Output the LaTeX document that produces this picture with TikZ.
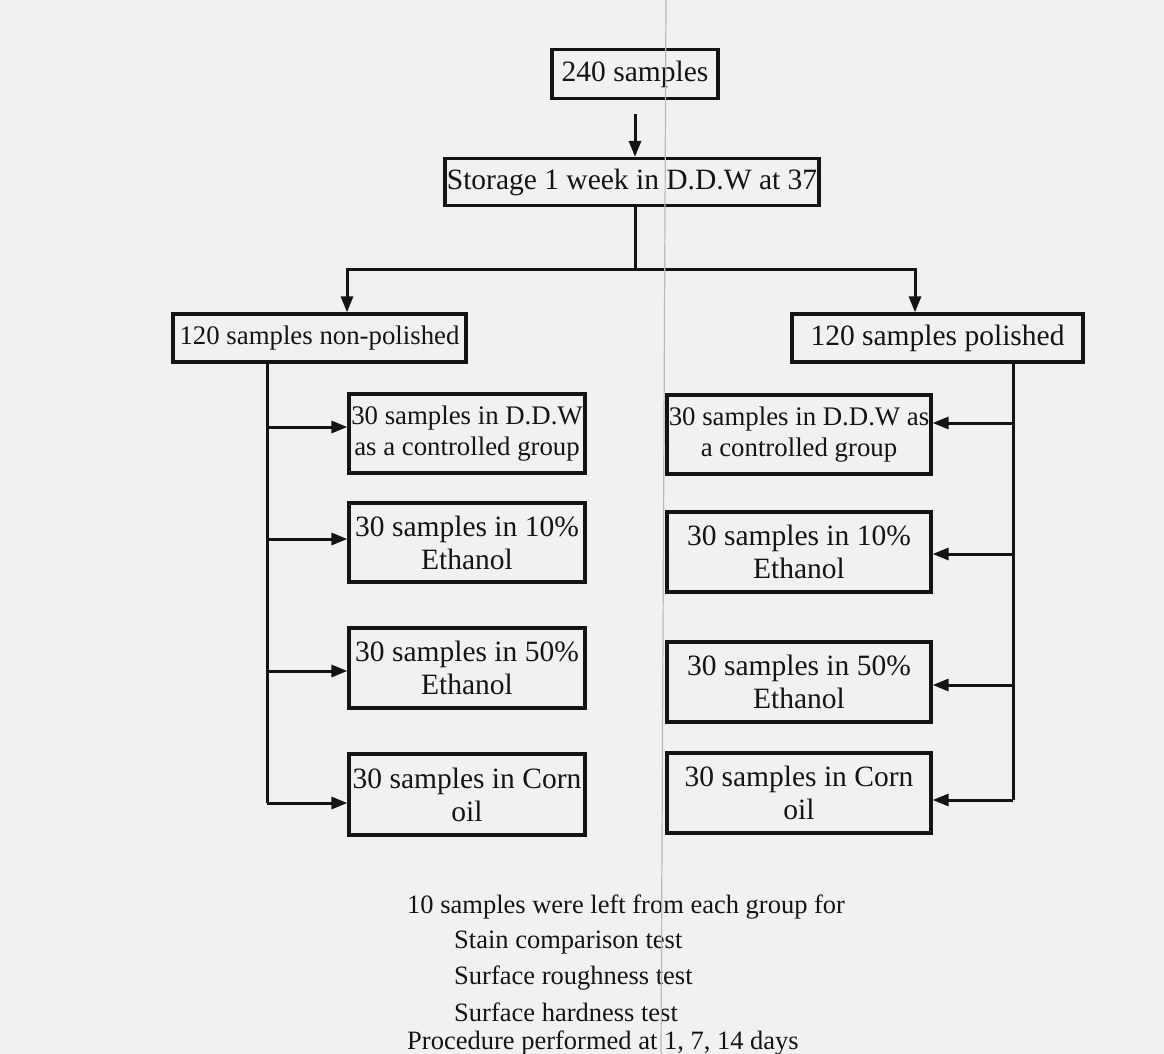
\documentclass[tikz,border=0pt]{standalone}
\usepackage{fontspec}
\setmainfont{Liberation Serif}
\usetikzlibrary{arrows.meta,calc}
\newcommand\fbig{\fontsize{29.5}{33}\selectfont}
\newcommand\fmid{\fontsize{26.8}{31}\selectfont}
\newcommand\fnote{\fontsize{26.5}{30}\selectfont}
\definecolor{ink}{gray}{0.08}
\definecolor{paper}{gray}{0.945}
\tikzset{
  box/.style={draw=ink, line width=3.2pt, inner sep=0pt, align=center, text=ink, font=\fbig},
  midbox/.style={box, font=\fmid},
  ln/.style={draw=ink, line width=3pt},
  arr/.style={ln, -{Triangle[length=16pt,width=12pt]}},
  note/.style={anchor=west, inner sep=0pt, text=ink, font=\fnote},
}
\begin{document}
\begin{tikzpicture}[x=1pt,y=-1pt]
\fill[paper] (0,0) rectangle (1164,1054);
\useasboundingbox (0,0) rectangle (1164,1054);

% top boxes
\node[box, minimum width=166pt, minimum height=49pt] (n240) at (635,74) {240 samples};
\node[box, minimum width=374pt, minimum height=47pt] (storage) at (632,182) {Storage 1 week in D.D.W at 37};

\node[midbox, minimum width=293pt, minimum height=48pt] (np) at (319.5,338) {120 samples non-polished};
\node[box, minimum width=291pt, minimum height=48pt] (pol) at (937.5,338) {120 samples polished};

% left column
\node[midbox, minimum width=236pt, minimum height=79pt] (L1) at (467,433.5) {30 samples in D.D.W\\as a controlled group};
\node[box, minimum width=236pt, minimum height=79pt] (L2) at (467,542.5) {30 samples in 10\%\\Ethanol};
\node[box, minimum width=236pt, minimum height=80pt] (L3) at (467,668) {30 samples in 50\%\\Ethanol};
\node[box, minimum width=236pt, minimum height=81pt] (L4) at (467,794.5) {30 samples in Corn\\oil};

% right column
\node[midbox, minimum width=264pt, minimum height=79pt] (R1) at (799,434.5) {30 samples in D.D.W as\\a controlled group};
\node[box, minimum width=264pt, minimum height=80pt] (R2) at (799,552) {30 samples in 10\%\\Ethanol};
\node[box, minimum width=264pt, minimum height=80pt] (R3) at (799,682) {30 samples in 50\%\\Ethanol};
\node[box, minimum width=264pt, minimum height=80pt] (R4) at (799,793) {30 samples in Corn\\oil};

% junction coordinates
\coordinate (split) at (635,269);
\coordinate (jl) at (347,269);
\coordinate (jr) at (915,269);
\coordinate (lt) at (267,0);
\coordinate (rt) at (1013,0);

% connectors
\draw[arr] ([yshift=-14pt]n240.south) -- (storage.north -| n240.south);
\draw[ln] (storage.south -| split) -- (split);
\draw[arr] (split) -- (jl) -- (np.north -| jl);
\draw[arr] (split) -- (jr) -- (pol.north -| jr);

\draw[ln] (np.south -| lt) -- (lt |- 0,803);
\draw[arr] (lt |- 0,803) -- ([yshift=-8.5pt]L4.west);
\draw[arr] (lt |- 0,427) -- ([yshift=6.5pt]L1.west);
\draw[arr] (lt |- 0,539) -- ([yshift=3.5pt]L2.west);
\draw[arr] (lt |- 0,671) -- ([yshift=-3pt]L3.west);

\draw[ln] (pol.south -| rt) -- (rt |- 0,800);
\draw[arr] (rt |- 0,800) -- ([yshift=-7pt]R4.east);
\draw[arr] (rt |- 0,423) -- ([yshift=11.5pt]R1.east);
\draw[arr] (rt |- 0,554) -- ([yshift=-2pt]R2.east);
\draw[arr] (rt |- 0,685) -- ([yshift=-3pt]R3.east);

% notes
\node[note] (t1) at (407,907) {10 samples were left from each group for};
\node[note] (t2) at (454,943) {Stain comparison test};
\node[note] (t3) at (454,978) {Surface roughness test};
\node[note] (t4) at (454,1012) {Surface hardness test};
\node[note] (t5) at (407,1043) {Procedure performed at 1, 7, 14 days};

% gutter line of the scanned page
\draw[gray!55, line width=1.2pt] (666,0) -- (661,1054);
\end{tikzpicture}
\end{document}
